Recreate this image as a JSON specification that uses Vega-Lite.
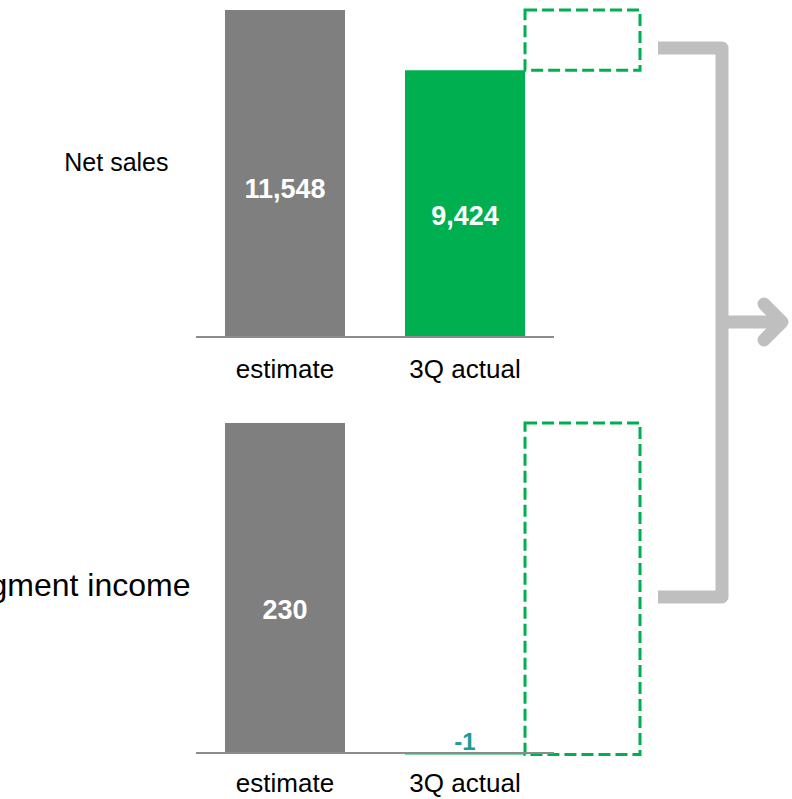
{
  "$schema": "https://vega.github.io/schema/vega-lite/v6.json",
  "background": "white",
  "autosize": {"type": "none"},
  "width": 358,
  "height": 743,
  "padding": {"left": 196, "top": 10, "right": 238, "bottom": 46},
  "config": {
    "view": {"stroke": null},
    "font": "Liberation Sans"
  },
  "resolve": {"scale": {"x": "independent", "y": "independent"}},
  "layer": [
    {
      "data": {"values": [
        {"item": "estimate", "value": 11548},
        {"item": "3Q actual", "value": 9424}
      ]},
      "layer": [
        {
          "mark": {"type": "bar"},
          "encoding": {
            "x": {
              "field": "item",
              "type": "nominal",
              "sort": ["estimate", "3Q actual"],
              "scale": {"paddingInner": 0.3333, "paddingOuter": 0.161},
              "axis": null
            },
            "y": {
              "field": "value",
              "type": "quantitative",
              "scale": {"domain": [-14691, 11548], "nice": false, "zero": false},
              "axis": {
                "orient": "left",
                "domain": false, "ticks": false, "labels": false, "grid": false,
                "title": "Net sales",
                "titleAngle": 0, "titleAlign": "right", "titleBaseline": "middle",
                "titleX": -28, "titleY": 152,
                "titleFont": "Liberation Sans", "titleFontSize": 25,
                "titleFontWeight": "normal", "titleColor": "#000000"
              }
            },
            "color": {
              "field": "item",
              "type": "nominal",
              "scale": {"domain": ["estimate", "3Q actual"], "range": ["#7f7f7f", "#00b050"]},
              "legend": null
            }
          }
        },
        {
          "data": {"values": [
            {"item": "3Q actual", "value": 9424, "estimate": 11548}
          ]},
          "mark": {
            "type": "bar", "width": 115, "xOffset": 117.5,
            "fillOpacity": 0, "stroke": "#00b050", "strokeWidth": 3, "strokeDash": [12, 5]
          },
          "encoding": {
            "x": {"field": "item", "type": "nominal", "sort": ["estimate", "3Q actual"]},
            "y": {"field": "value", "type": "quantitative"},
            "y2": {"field": "estimate"}
          }
        },
        {
          "transform": [{"calculate": "datum.value * 0.45", "as": "mid"}],
          "mark": {
            "type": "text", "fontSize": 27,
            "fontWeight": "bold", "color": "#ffffff", "baseline": "middle"
          },
          "encoding": {
            "x": {"field": "item", "type": "nominal", "sort": ["estimate", "3Q actual"]},
            "y": {"field": "mid", "type": "quantitative"},
            "text": {"field": "value", "type": "quantitative", "format": ","}
          }
        },
        {
          "mark": {"type": "text", "fontSize": 26, "color": "#000000", "baseline": "middle", "dy": 33},
          "encoding": {
            "x": {"field": "item", "type": "nominal", "sort": ["estimate", "3Q actual"]},
            "y": {"datum": 0},
            "text": {"field": "item"}
          }
        },
        {
          "data": {"values": [{}]},
          "mark": {"type": "rule", "color": "#8c8c8c", "strokeWidth": 2},
          "encoding": {"y": {"datum": 0}}
        }
      ]
    },
    {
      "data": {"values": [
        {"item": "estimate", "value": 230},
        {"item": "3Q actual", "value": -1}
      ]},
      "layer": [
        {
          "mark": {"type": "bar"},
          "encoding": {
            "x": {
              "field": "item",
              "type": "nominal",
              "sort": ["estimate", "3Q actual"],
              "scale": {"paddingInner": 0.3333, "paddingOuter": 0.161},
              "axis": null
            },
            "y": {
              "field": "value",
              "type": "quantitative",
              "scale": {"domain": [0, 517.85], "nice": false, "zero": false},
              "axis": {
                "orient": "left",
                "domain": false, "ticks": false, "labels": false, "grid": false,
                "title": "Segment income",
                "titleAngle": 0, "titleAlign": "right", "titleBaseline": "middle",
                "titleX": -6, "titleY": 575,
                "titleFont": "Liberation Sans", "titleFontSize": 32,
                "titleFontWeight": "normal", "titleColor": "#000000"
              }
            },
            "color": {
              "field": "item",
              "type": "nominal",
              "scale": {"domain": ["estimate", "3Q actual"], "range": ["#7f7f7f", "#00b050"]},
              "legend": null
            }
          }
        },
        {
          "data": {"values": [
            {"item": "3Q actual", "value": -1, "estimate": 230}
          ]},
          "mark": {
            "type": "bar", "width": 115, "xOffset": 117.5,
            "fillOpacity": 0, "stroke": "#00b050", "strokeWidth": 3, "strokeDash": [12, 5]
          },
          "encoding": {
            "x": {"field": "item", "type": "nominal", "sort": ["estimate", "3Q actual"]},
            "y": {"field": "value", "type": "quantitative"},
            "y2": {"field": "estimate"}
          }
        },
        {
          "transform": [
            {"filter": "datum.value > 0"},
            {"calculate": "datum.value * 0.43", "as": "mid"}
          ],
          "mark": {
            "type": "text", "fontSize": 27,
            "fontWeight": "bold", "color": "#ffffff", "baseline": "middle"
          },
          "encoding": {
            "x": {"field": "item", "type": "nominal", "sort": ["estimate", "3Q actual"]},
            "y": {"field": "mid", "type": "quantitative"},
            "text": {"field": "value", "type": "quantitative", "format": ","}
          }
        },
        {
          "transform": [{"filter": "datum.value < 0"}],
          "mark": {
            "type": "text", "fontSize": 24,
            "fontWeight": "bold", "color": "#1a9c9c", "baseline": "alphabetic", "dy": -4
          },
          "encoding": {
            "x": {"field": "item", "type": "nominal", "sort": ["estimate", "3Q actual"]},
            "y": {"field": "value", "type": "quantitative"},
            "text": {"field": "value", "type": "nominal"}
          }
        },
        {
          "mark": {"type": "text", "fontSize": 26, "color": "#000000", "baseline": "middle", "dy": 31},
          "encoding": {
            "x": {"field": "item", "type": "nominal", "sort": ["estimate", "3Q actual"]},
            "y": {"datum": 0},
            "text": {"field": "item"}
          }
        },
        {
          "data": {"values": [{}]},
          "mark": {"type": "rule", "color": "#8c8c8c", "strokeWidth": 2},
          "encoding": {"y": {"datum": 0}}
        }
      ]
    },
    {
      "data": {"values": [
        {"part": "bracket", "order": 1, "x": 462, "y": 38},
        {"part": "bracket", "order": 2, "x": 526, "y": 38},
        {"part": "bracket", "order": 3, "x": 526, "y": 587},
        {"part": "bracket", "order": 4, "x": 462, "y": 587},
        {"part": "shaft", "order": 1, "x": 526, "y": 312},
        {"part": "shaft", "order": 2, "x": 586, "y": 312},
        {"part": "head", "order": 1, "x": 568, "y": 294},
        {"part": "head", "order": 2, "x": 586, "y": 312},
        {"part": "head", "order": 3, "x": 568, "y": 330}
      ]},
      "encoding": {
        "x": {"field": "x", "type": "quantitative", "scale": {"domain": [0, 358], "nice": false, "zero": false}, "axis": null},
        "y": {"field": "y", "type": "quantitative", "scale": {"domain": [0, 743], "nice": false, "reverse": true}, "axis": null},
        "detail": {"field": "part"},
        "order": {"field": "order"}
      },
      "layer": [
        {
          "transform": [{"filter": "datum.part !== 'head'"}],
          "mark": {"type": "line", "color": "#bfbfbf", "strokeWidth": 13, "strokeJoin": "round", "strokeCap": "butt"}
        },
        {
          "transform": [{"filter": "datum.part === 'head'"}],
          "mark": {"type": "line", "color": "#bfbfbf", "strokeWidth": 13, "strokeJoin": "round", "strokeCap": "round"}
        }
      ]
    }
  ]
}
